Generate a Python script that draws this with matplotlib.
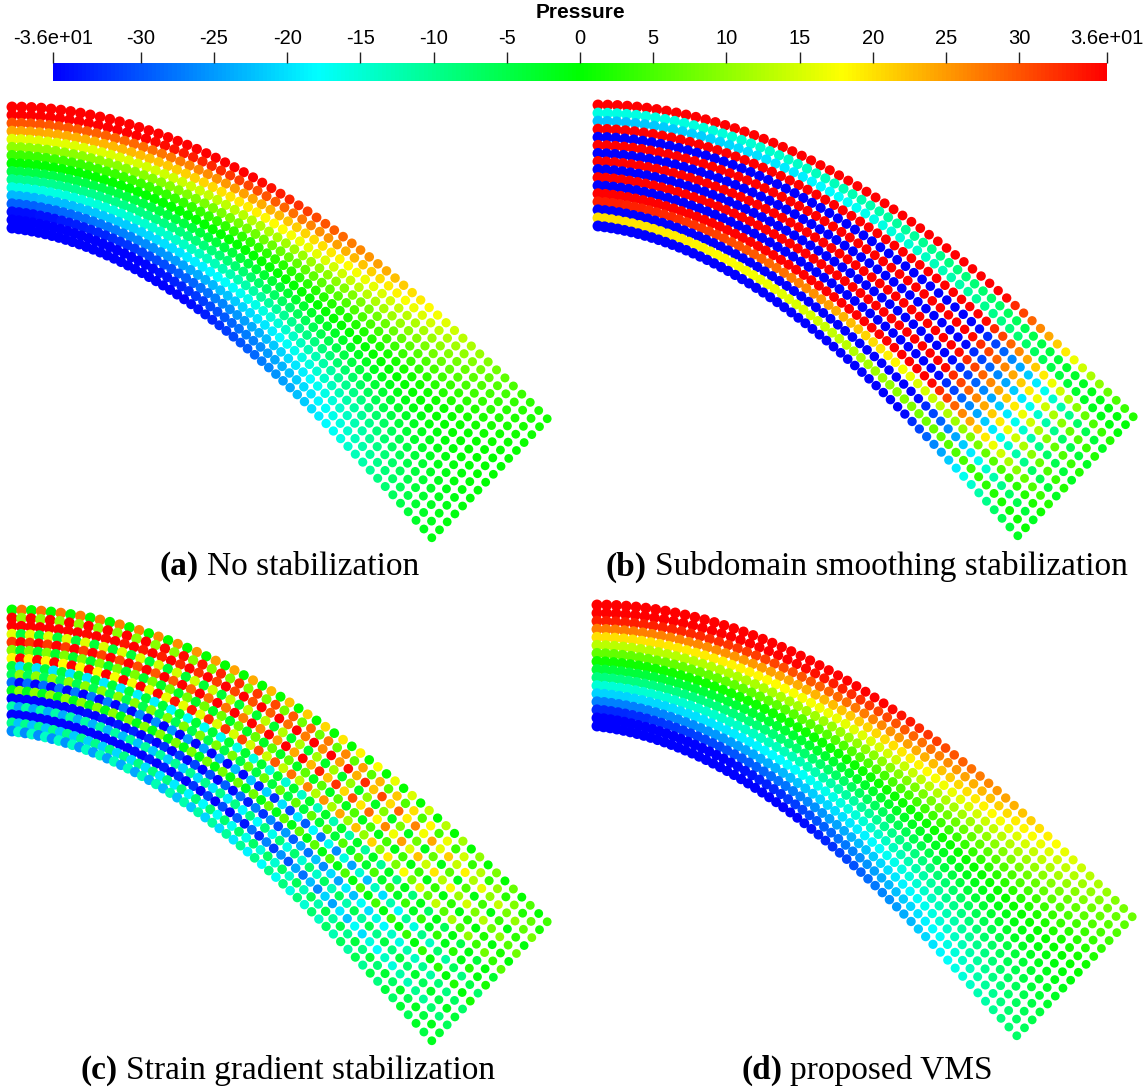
import numpy as np
import matplotlib
matplotlib.use('Agg')
import matplotlib.pyplot as plt
from matplotlib.colors import LinearSegmentedColormap, Normalize
from matplotlib.cm import ScalarMappable

# colour scale (ParaView rainbow)
p_min, p_max = -36.0, 36.0
cbar_ticks = [-36, -30, -25, -20, -15, -10, -5, 0, 5, 10, 15, 20, 25, 30, 36]
cbar_labels = ['-3.6e+01', '-30', '-25', '-20', '-15', '-10', '-5', '0',
               '5', '10', '15', '20', '25', '30', '3.6e+01']

captions = [('(a)', 'No stabilization'),
            ('(b)', 'Subdomain smoothing stabilization'),
            ('(c)', 'Strain gradient stabilization'),
            ('(d)', 'proposed VMS')]

# particle lattice: 16 rows across the thickness, 60 columns along the beam
n_rows, n_cols = 16, 60

# pressure at the clamped end, top row first
root_a = [44, 38, 30, 24, 16, 10, 4, 0, -5, -10, -16, -23, -29, -35, -40, -44]
root_b = [80, -16, -22, 80, -80, 80, -80, 80, -80, 80, -80, 80, 34, -80, 20, -80]
root_c = [14, 24, 44, 6, 40, 3, 28, -12, 2, -36, 4, -40, -18, -42, -16, -20]
alt_c = [-14, 14, -8, 10, -8, 6, -10, 8, -8, 8, -6, 4, 6, -4, 6, -6]
root_d = [46, 40, 34, 27, 20, 13, 7, 1, -4, -9, -15, -21, -27, -33, -39, -45]

# decay of pressure along the beam, root to tip
decay = [1.00, 1.00, 1.00, 1.00, 0.99, 0.99, 0.99, 0.98, 0.98, 0.97,
         0.97, 0.96, 0.95, 0.95, 0.94, 0.93, 0.92, 0.91, 0.90, 0.89,
         0.88, 0.87, 0.86, 0.84, 0.83, 0.82, 0.80, 0.79, 0.77, 0.76,
         0.74, 0.72, 0.70, 0.68, 0.67, 0.65, 0.62, 0.60, 0.58, 0.56,
         0.54, 0.51, 0.49, 0.46, 0.44, 0.41, 0.39, 0.36, 0.33, 0.30,
         0.27, 0.24, 0.21, 0.18, 0.15, 0.12, 0.09, 0.07, 0.05, 0.03]
decay_d = [1.00, 1.00, 1.00, 1.00, 1.00, 0.99, 0.99, 0.99, 0.98, 0.98,
           0.97, 0.97, 0.96, 0.96, 0.95, 0.94, 0.93, 0.93, 0.92, 0.91,
           0.90, 0.89, 0.88, 0.87, 0.86, 0.85, 0.84, 0.82, 0.81, 0.80,
           0.78, 0.77, 0.75, 0.74, 0.72, 0.70, 0.69, 0.67, 0.65, 0.63,
           0.61, 0.59, 0.57, 0.55, 0.53, 0.51, 0.48, 0.46, 0.44, 0.41,
           0.39, 0.36, 0.34, 0.31, 0.28, 0.26, 0.23, 0.20, 0.18, 0.16]

W, H = 1145, 1091
fig = plt.figure(figsize=(W / 100, H / 100), dpi=100)
cmap = LinearSegmentedColormap.from_list(
    'rainbow_pv', ['#0000ff', '#00ffff', '#00ff00', '#ffff00', '#ff0000'])
norm = Normalize(p_min, p_max)


def px_axes(x, y, w, h):
    return fig.add_axes([x / W, 1 - (y + h) / H, w / W, h / H])


# deformed beam shape (pixel units inside a panel)
u = np.arange(n_cols) / (n_cols - 1)
theta = 0.77 * (2 * u - u ** 2)
ga = 1 + 0.22 * u
gt = 1 + 0.37 * u
ds, dt = 9.72, 121 / 15
step = ds * ga
top_x = 12 + np.concatenate([[0], np.cumsum(step[:-1] * np.cos((theta[:-1] + theta[1:]) / 2))])
top_y = 12 + np.concatenate([[0], np.cumsum(step[:-1] * np.sin((theta[:-1] + theta[1:]) / 2))])
rows = np.arange(n_rows)[:, None]
X = top_x[None, :] - rows * dt * gt[None, :] * np.sin(theta)[None, :]
Y = top_y[None, :] + rows * dt * gt[None, :] * np.cos(theta)[None, :]
size = np.tile(62 - 22 * u, (n_rows, 1))

dec = np.array(decay)[None, :]
dec_d = np.array(decay_d)[None, :]
sign = (-1.0) ** np.arange(n_cols)[None, :]
fields = [np.array(root_a)[:, None] * dec,
          np.array(root_b)[:, None] * dec,
          (np.array(root_c)[:, None] + np.array(alt_c)[:, None] * sign) * dec_d,
          np.array(root_d)[:, None] * dec_d]

origins = [(0, 95), (586, 93), (0, 598), (585, 593)]
pw, ph = 560, 450
for k, (ox, oy) in enumerate(origins):
    ax = px_axes(ox, oy, pw, ph)
    ax.scatter(X.ravel(), Y.ravel(), c=fields[k].ravel(), cmap=cmap, norm=norm,
               s=size.ravel(), linewidths=0)
    ax.set_xlim(0, pw)
    ax.set_ylim(ph, 0)
    ax.axis('off')

cap_fs = 24
cap_pos = [(288, 567), (866, 567), (288, 1070), (866, 1070)]
for (lab, txt), (cx, cy) in zip(captions, cap_pos):
    t = fig.text(cx / W, 1 - cy / H, lab + ' ' + txt, fontsize=cap_fs,
                 family='Liberation Serif', ha='center', va='center', alpha=0)
    fig.canvas.draw()
    bb = t.get_window_extent()
    t.remove()
    fig.text(bb.x0 / W, 1 - cy / H, lab, fontsize=cap_fs, family='Liberation Serif',
             weight='bold', ha='left', va='center')
    lw = fig.text(0, 0, lab + ' ', fontsize=cap_fs, family='Liberation Serif', weight='bold')
    fig.canvas.draw()
    off = lw.get_window_extent().width
    lw.remove()
    fig.text((bb.x0 + off) / W, 1 - cy / H, txt, fontsize=cap_fs, family='Liberation Serif',
             ha='left', va='center')

# colour bar
cax = px_axes(53, 63, 1054, 18)
cb = fig.colorbar(ScalarMappable(norm=norm, cmap=cmap), cax=cax, orientation='horizontal')
cb.outline.set_visible(False)
cax.xaxis.set_ticks_position('top')
cax.xaxis.set_label_position('top')
cb.set_ticks(cbar_ticks)
cb.set_ticklabels(cbar_labels)
cax.tick_params(axis='x', direction='out', length=8, width=1, color='#222222',
                labelsize=14.5, pad=3)
for lbl in cax.get_xticklabels():
    lbl.set_family(['Liberation Sans Narrow', 'Liberation Sans', 'DejaVu Sans'])
fig.text(580 / W, 1 - 13 / H, 'Pressure', fontsize=15, weight='bold',
         family=['Liberation Sans Narrow', 'Liberation Sans', 'DejaVu Sans'],
         ha='center', va='center')

fig.savefig('out.png', dpi=100)
